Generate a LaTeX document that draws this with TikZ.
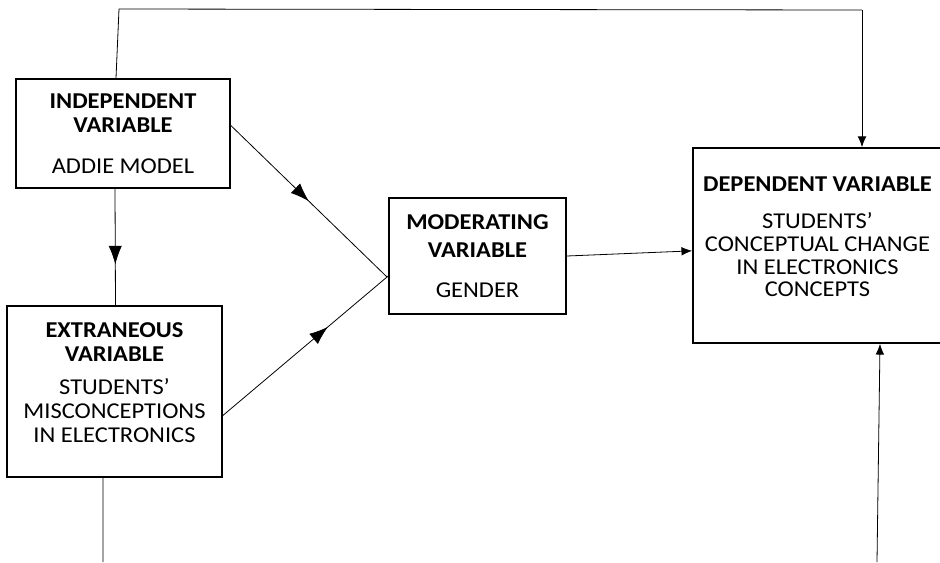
\documentclass[tikz,border=0pt]{standalone}
\usepackage{fontspec}
\setmainfont{Carlito}[FakeStretch=1.08]
\usepackage{tikz}
\usetikzlibrary{arrows.meta,calc,decorations.markings}

\begin{document}
\begin{tikzpicture}[x=0.75pt, y=-0.75pt,
  varbox/.style={draw, line width=1.3pt, align=center, inner sep=0pt,
                 font=\fontsize{17}{18}\selectfont},
  link/.style={line width=0.6pt},
  tip/.style={link, -{Latex[length=8pt, width=6.5pt]}},
  midarrow/.style={link, postaction={decorate}, decoration={markings,
                   mark=at position #1 with {\arrow{Latex[length=14pt, width=10pt]}}}},
]
  \useasboundingbox (0,0) rectangle (940,562);

  % Boxes -------------------------------------------------------------------
  \node[varbox, minimum width=160.5pt, minimum height=81.75pt] (indep) at (123,133.5)
    {\textbf{INDEPENDENT}\\\textbf{VARIABLE}\\[13pt]ADDIE MODEL};
  \node[varbox, minimum width=161.25pt, minimum height=128.25pt] (extra) at (114.5,391.5)
    {\textbf{EXTRANEOUS}\\\textbf{VARIABLE}\\[7pt]STUDENTS’\\MISCONCEPTIONS\\IN ELECTRONICS\\[-4.5pt]};
  \node[varbox, minimum width=132.75pt, minimum height=87pt] (moder) at (477.5,256)
    {\textbf{MODERATING}\\[3pt]\textbf{VARIABLE}\\[12pt]GENDER};
  \node[varbox, minimum width=186.75pt, minimum height=146.25pt] (dep) at (817.5,245.5)
    {\textbf{DEPENDENT VARIABLE}\\[10pt]STUDENTS’\\[-1pt]CONCEPTUAL CHANGE\\[-1pt]IN ELECTRONICS\\[-1pt]CONCEPTS\\[-5pt]};

  % Free ends ---------------------------------------------------------------
  \coordinate (joint) at (387,277);
  \coordinate (topleft) at (119,9);
  \coordinate (topright) at (862,10);
  \coordinate (extraend) at (103,562);
  \coordinate (depstart) at (877,562);

  % Connectors --------------------------------------------------------------
  \draw[link] ([xshift=-5.25pt]indep.north) -- (topleft) -- (topright);
  \draw[tip] (topright) -- (topright |- dep.north);
  \draw[midarrow=0.65] ([xshift=-6pt]indep.south) -- ([xshift=0.75pt]extra.north);
  \draw[midarrow=0.5] ([yshift=6pt]indep.east) -- (joint);
  \draw[midarrow=0.64] ([yshift=-18pt]extra.east) -- (joint);
  \draw[link] (joint) -- ([yshift=-15pt]moder.west);
  \draw[tip] (moder.east) -- ([yshift=-4pt]dep.west);
  \draw[link] ([xshift=-8.6pt]extra.south) -- (extraend);
  \draw[tip] (depstart) -- ($(depstart |- dep.south)+(2.25pt,0)$);
\end{tikzpicture}
\end{document}
